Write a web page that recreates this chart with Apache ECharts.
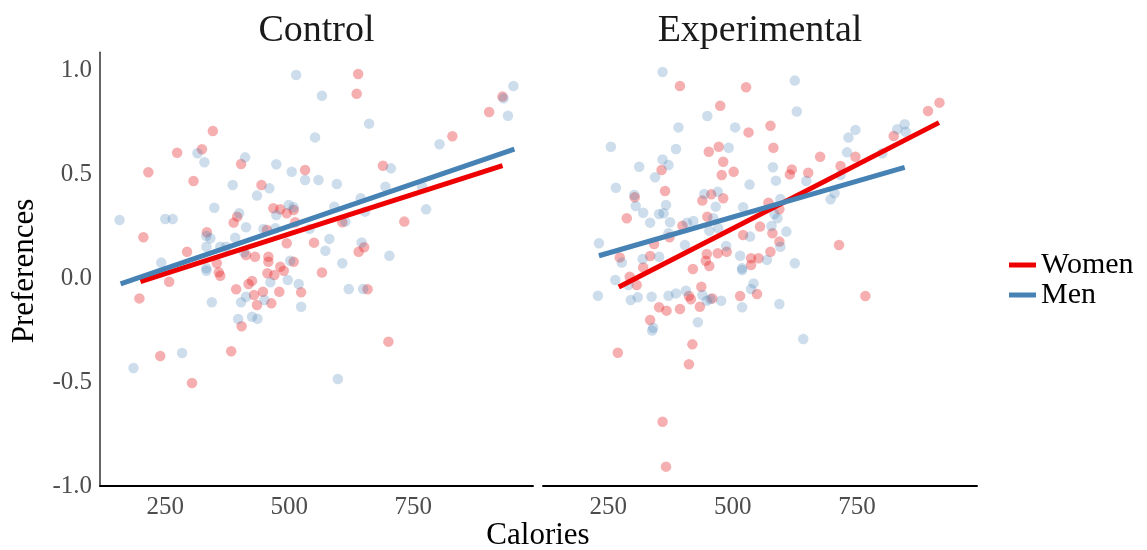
<!DOCTYPE html>
<html>
<head>
<meta charset="utf-8">
<script src="https://cdn.jsdelivr.net/npm/echarts@6/dist/echarts.min.js"></script>
<style>
  html, body { margin: 0; padding: 0; background: #fff; }
  #chart { width: 1147px; height: 550px; }
</style>
</head>
<body>
<div id="chart"></div>
<script>
// panels and ticks
const panels = ['Control', 'Experimental'];
const xTicks = [250, 500, 750];
const yTicks = [-1, -0.5, 0, 0.5, 1];

// Control: [calories, preference]
const controlWomen = [
  [346,0.707],[274,0.602],[324,0.619],[216,0.508],[403,0.548],[307,0.466],[532,0.519],[444,0.447],
  [468,0.335],[482,0.33],[495,0.311],[509,0.327],[395,0.295],[388,0.266],[512,0.268],[206,0.196],
  [334,0.22],[294,0.126],[455,0.231],[495,0.167],[550,0.17],[354,0.071],[413,0.11],[431,0.102],
  [458,0.102],[458,0.078],[482,0.054],[509,0.078],
  [639,0.981],[636,0.886],[930,0.872],[903,0.798],[829,0.681],[689,0.54],[732,0.271],[607,0.268],
  [640,0.126],[651,0.148],
  [258,-0.018],[198,-0.098],[358,0.027],[361,0.011],[393,-0.054],[418,-0.029],[425,-0.014],[429,-0.082],
  [447,-0.066],[435,-0.13],[464,-0.122],[480,-0.066],[524,-0.069],[456,0.023],[470,0.014],[489,0.035],
  [404,-0.232],[383,-0.352],[240,-0.375],[304,-0.505],
  [658,-0.054],[700,-0.306],[566,0.026]
];
const controlMen = [
  [514,0.976],[566,0.876],[552,0.676],[315,0.6],[329,0.556],[411,0.58],[474,0.547],[505,0.511],
  [532,0.471],[559,0.471],[386,0.447],[460,0.431],[435,0.396],[349,0.338],[158,0.279],[250,0.284],
  [265,0.284],[399,0.311],[413,0.244],[474,0.303],[499,0.351],[509,0.34],[448,0.236],[472,0.239],
  [333,0.202],[341,0.191],[391,0.194],[361,0.15],[373,0.15],[333,0.15],[541,0.236],[242,0.074],
  [502,0.083],[409,0.124],[333,0.047],
  [952,0.923],[932,0.864],[941,0.78],[661,0.742],[803,0.643],[705,0.527],[694,0.439],[768,0.439],
  [776,0.33],[596,0.452],[644,0.383],[591,0.343],[653,0.319],[613,0.271],[581,0.188],[573,0.131],
  [646,0.171],[702,0.107],[607,0.071],
  [333,0.035],[462,-0.021],[497,-0.01],[519,-0.029],[524,-0.138],[344,-0.117],[413,-0.09],[403,-0.117],
  [450,-0.106],[397,-0.197],[425,-0.186],[436,-0.196],[284,-0.361],[186,-0.433],
  [620,-0.053],[649,-0.053],[598,-0.486]
];

// Experimental
const expWomen = [
  [394,0.923],[527,0.917],[475,0.828],[532,0.7],[452,0.607],[472,0.631],[481,0.559],[478,0.495],
  [502,0.511],[357,0.519],[364,0.418],[303,0.388],[457,0.402],[481,0.383],[439,0.372],[287,0.287],
  [449,0.295],[399,0.251],[373,0.196],[342,0.163],[521,0.207],[273,0.099],[334,0.106],[448,0.115],
  [470,0.119],[488,0.126],[446,0.083],[453,0.058],[537,0.095],[537,0.062],[552,0.095],[420,0.043],
  [320,0.051],
  [916,0.843],[893,0.803],[824,0.683],[576,0.732],[582,0.626],[676,0.583],[747,0.583],[717,0.538],
  [619,0.522],[615,0.498],[652,0.506],[572,0.362],[594,0.33],[580,0.215],[594,0.175],[576,0.126],
  [714,0.159],[555,0.247],
  [293,0.006],[307,-0.034],[412,-0.087],[416,-0.102],[437,-0.042],[434,-0.138],[459,-0.098],[352,-0.141],
  [367,-0.157],[394,-0.149],[334,-0.202],[515,-0.087],[549,-0.077],[419,-0.319],[412,-0.415],[269,-0.359],
  [359,-0.691],[366,-0.907],[767,-0.087]
];
const expMen = [
  [359,0.99],[449,0.779],[391,0.724],[505,0.724],[255,0.631],[386,0.62],[492,0.626],[359,0.57],
  [371,0.543],[312,0.535],[344,0.484],[265,0.434],[534,0.449],[302,0.399],[305,0.346],[366,0.351],
  [352,0.308],[361,0.311],[320,0.314],[334,0.266],[374,0.268],[443,0.404],[470,0.415],[466,0.343],
  [521,0.34],[408,0.266],[421,0.274],[461,0.287],[471,0.239],[453,0.227],[231,0.167],[371,0.215],
  [404,0.159],[487,0.154],[535,0.199],[277,0.074],[319,0.091],[352,0.102],[515,0.107],[519,0.047],
  [625,0.949],[629,0.8],[747,0.712],[733,0.675],[846,0.739],[831,0.715],[848,0.703],[730,0.604],
  [801,0.6],[581,0.532],[587,0.468],[648,0.466],[717,0.495],[705,0.407],[697,0.378],[596,0.38],
  [584,0.308],[590,0.287],[578,0.25],[608,0.223],[596,0.15],[569,0.087],[625,0.071],
  [229,-0.085],[264,-0.01],[295,-0.106],[309,-0.093],[290,-0.034],[337,-0.09],[371,-0.085],[386,-0.074],
  [406,-0.061],[439,-0.082],[448,-0.109],[455,-0.101],[477,-0.109],[519,0.038],[519,-0.141],[537,-0.053],
  [542,-0.026],[430,-0.213],[340,-0.239],[338,-0.253],[642,-0.293],[594,-0.125]
];

// fitted lines (end points)
const controlWomenFit = [[200,-0.018],[930,0.54]];
const controlMenFit = [[160,-0.028],[954,0.62]];
const expWomenFit = [[271,-0.043],[915,0.747]];
const expMenFit = [[231,0.107],[846,0.532]];

const RED = '#EE0000';
const BLUE = '#4682B4';
const FONT = '"Liberation Serif", "DejaVu Serif", serif';

const chart = echarts.init(document.getElementById('chart'));

function fitLine(name, data, idx, color) {
  return {
    name: name, type: 'line', data: data, xAxisIndex: idx, yAxisIndex: idx,
    showSymbol: false, silent: true, z: 5,
    lineStyle: { width: 5, color: color }, itemStyle: { color: color }
  };
}
function points(name, data, idx, color, alpha) {
  return {
    name: name, type: 'scatter', data: data, xAxisIndex: idx, yAxisIndex: idx,
    symbolSize: 10.5, silent: true, z: 2,
    itemStyle: { color: color, opacity: alpha }
  };
}

const grids = [
  { left: 100, top: 52.3, width: 433, height: 433.7 },
  { left: 543, top: 52.3, width: 434, height: 433.7 }
];

const xAxes = grids.map((g, i) => ({
  type: 'value', gridIndex: i, min: 118.5, max: 991.5,
  axisLine: { onZero: false, lineStyle: { color: '#000', width: 2 } },
  axisTick: { show: false },
  splitLine: { show: false },
  axisLabel: {
    customValues: xTicks, margin: 9, color: '#4d4d4d',
    fontSize: 25, fontFamily: FONT
  }
}));

const yAxes = grids.map((g, i) => ({
  type: 'value', gridIndex: i, min: -1, max: 1.085,
  axisLine: { show: i === 0, onZero: false, lineStyle: { color: '#333', width: 1.5 } },
  axisTick: { show: false },
  splitLine: { show: false },
  axisLabel: {
    show: i === 0, customValues: yTicks, margin: 8, color: '#4d4d4d',
    fontSize: 25, fontFamily: FONT,
    formatter: v => v.toFixed(1)
  }
}));

const option = {
  animation: false,
  backgroundColor: '#fff',
  grid: grids,
  xAxis: xAxes,
  yAxis: yAxes,
  legend: {
    data: [{ name: 'Women', icon: 'rect' }, { name: 'Men', icon: 'rect' }],
    orient: 'vertical', left: 1004, top: 245, itemGap: 0,
    itemWidth: 27, itemHeight: 5,
    textStyle: { fontSize: 30, fontFamily: FONT, color: '#000' }
  },
  graphic: [
    { type: 'text', x: 316.5, y: 31, style: { text: panels[0], font: '38px ' + FONT, fill: '#1a1a1a', textAlign: 'center', textVerticalAlign: 'middle' } },
    { type: 'text', x: 760, y: 31, style: { text: panels[1], font: '38px ' + FONT, fill: '#1a1a1a', textAlign: 'center', textVerticalAlign: 'middle' } },
    { type: 'text', x: 538, y: 536, style: { text: 'Calories', font: '31px ' + FONT, fill: '#000', textAlign: 'center', textVerticalAlign: 'middle' } },
    { type: 'text', x: 25, y: 271, rotation: Math.PI / 2, style: { text: 'Preferences', font: '31px ' + FONT, fill: '#000', textAlign: 'center', textVerticalAlign: 'middle' } }
  ],
  series: [
    fitLine('Women', controlWomenFit, 0, RED),
    fitLine('Men', controlMenFit, 0, BLUE),
    fitLine('Women', expWomenFit, 1, RED),
    fitLine('Men', expMenFit, 1, BLUE),
    points('Women', controlWomen, 0, '#E41A1C', 0.35),
    points('Men', controlMen, 0, BLUE, 0.27),
    points('Women', expWomen, 1, '#E41A1C', 0.35),
    points('Men', expMen, 1, BLUE, 0.27)
  ]
};

chart.setOption(option);
</script>
</body>
</html>
